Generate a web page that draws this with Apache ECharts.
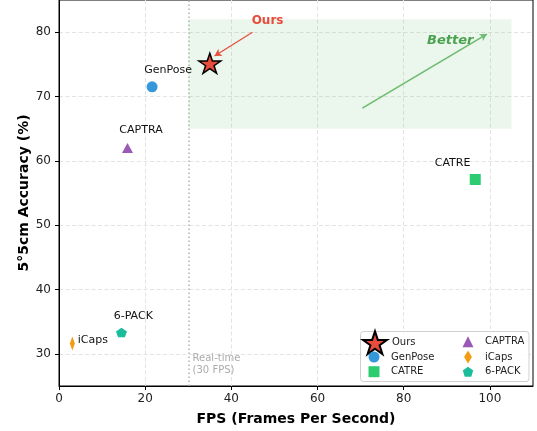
<!DOCTYPE html>
<html>
<head>
<meta charset="utf-8">
<script src="https://cdn.jsdelivr.net/npm/echarts@6/dist/echarts.min.js"></script>
<style>
  html, body { margin: 0; padding: 0; background: #fff; }
  #chart { width: 537px; height: 431px; }
</style>
</head>
<body>
<div id="chart"></div>
<script>
// Methods compared: speed (FPS) vs. 5°5cm accuracy
const methods  = ['Ours', 'GenPose', 'CATRE', 'CAPTRA', 'iCaps', '6-PACK'];
const fps      = [35.0, 21.6, 96.6, 15.9, 3.1, 14.5];
const accuracy = [75.0, 71.5, 57.1, 62.0, 31.6, 33.3];

// Axis ticks and ranges
const xTicks = [0, 20, 40, 60, 80, 100];
const yTicks = [30, 40, 50, 60, 70, 80];
const xRange = [0, 110];
const yRange = [25, 85];

// Real-time threshold and the "better" region
const realTimeFps = 30;
const betterFps = [30, 105];
const betterAcc = [65, 82];

const FONT = 'DejaVu Sans';

// Marker shapes
function polyPath(n, rOuter, rInner) {
  const pts = [];
  const count = rInner == null ? n : n * 2;
  for (let i = 0; i < count; i++) {
    const r = (rInner != null && i % 2) ? rInner : rOuter;
    const a = -Math.PI / 2 + i * 2 * Math.PI / count;
    pts.push((r * Math.cos(a)).toFixed(4) + ',' + (r * Math.sin(a)).toFixed(4));
  }
  return 'path://M' + pts.join('L') + 'Z';
}
const STAR = polyPath(5, 1, 0.382);
const PENTAGON = polyPath(5, 1);
const SQUARE = 'path://M0,0L1,0L1,1L0,1Z';
const TRIANGLE = 'path://M0,-1L1,1L-1,1Z';
const THIN_DIAMOND = 'path://M0,-1L0.6,0L0,1L-0.6,0Z';
const CIRCLE = 'path://M1,0A1,1,0,1,1,-1,0A1,1,0,1,1,1,0Z';

// legendSize: icon box; iconW: drawn icon width inside that box
const styles = {
  'Ours':    { color: '#e74c3c', symbol: STAR,         size: [22, 21], legendSize: [24, 23], iconW: 24, border: '#000', bw: 1.5 },
  'GenPose': { color: '#3498db', symbol: 'circle',     size: 11,       legendSize: [24, 11], iconW: 11, icon: CIRCLE },
  'CATRE':   { color: '#2ecc71', symbol: SQUARE,       size: [11, 11], legendSize: [24, 11], iconW: 11 },
  'CAPTRA':  { color: '#9b59b6', symbol: TRIANGLE,     size: [11, 10], legendSize: [24, 11], iconW: 11 },
  'iCaps':   { color: '#f39c12', symbol: THIN_DIAMOND, size: [8.4, 14], legendSize: [24, 13], iconW: 7.8 },
  '6-PACK':  { color: '#1abc9c', symbol: PENTAGON,     size: [11, 10], legendSize: [24, 10], iconW: 10.5 }
};

// Label placement relative to each marker (px)
const labelOffsets = {
  'GenPose': [16, -16.5],
  'CATRE':   [-22.7, -16.8],
  'CAPTRA':  [13.5, -17.5],
  'iCaps':   [20.5, -3.7],
  '6-PACK':  [11.8, -16.5]
};

const pointSeries = methods.map((m, i) => {
  const s = styles[m];
  return {
    type: 'scatter',
    name: m,
    data: [[fps[i], accuracy[i]]],
    symbol: s.symbol,
    symbolSize: s.size,
    symbolKeepAspect: true,
    symbolOffset: m === 'Ours' ? [0, -1] : [0, 0],
    itemStyle: {
      color: s.color,
      opacity: 1,
      borderColor: s.border || s.color,
      borderWidth: s.bw || 0
    },
    label: {
      show: m !== 'Ours',
      formatter: m,
      position: 'inside',
      offset: labelOffsets[m] || [0, 0],
      color: '#111',
      fontFamily: FONT,
      fontSize: 11,
      textBorderWidth: 0
    },
    emphasis: { disabled: true },
    z: m === 'Ours' ? 6 : 5
  };
});

// Annotation layer: region, threshold line, arrows and notes
const annotationSeries = {
  type: 'scatter',
  name: 'annotations',
  data: [],
  silent: true,
  z: 2,
  markArea: {
    silent: true,
    itemStyle: { color: 'rgba(76,175,80,0.11)' },
    data: [[{ coord: [betterFps[0], betterAcc[0]] }, { coord: [betterFps[1], betterAcc[1]] }]]
  },
  markLine: {
    silent: true,
    animation: false,
    label: { show: false },
    data: [
      [
        { coord: [realTimeFps, yRange[0]], symbol: 'none',
          lineStyle: { type: [1.5, 2.5], color: '#b3b3b3', width: 1.5 } },
        { coord: [realTimeFps, yRange[1]], symbol: 'none' }
      ],
      [
        { coord: [44.9, 80.0], symbol: 'none',
          lineStyle: { type: 'solid', color: '#e74c3c', width: 1.2 } },
        { coord: [36.1, 76.3], symbol: 'arrow', symbolSize: [6, 7] }
      ],
      [
        { coord: [70.4, 68.2], symbol: 'none',
          lineStyle: { type: 'solid', color: '#6dbb6f', width: 1.6 } },
        { coord: [99.3, 79.7], symbol: 'arrow', symbolSize: [6, 7] }
      ]
    ]
  },
  markPoint: {
    silent: true,
    animation: false,
    symbol: 'circle',
    symbolSize: 0,
    data: [
      { coord: [48.4, 81.75],
        label: { show: true, position: 'inside', formatter: 'Ours', color: '#e74c3c',
                 fontFamily: FONT, fontWeight: 'bold', fontSize: 12, textBorderWidth: 0 } },
      { coord: [90.8, 78.65],
        label: { show: true, position: 'inside', formatter: 'Better', color: '#4ba24e',
                 fontFamily: FONT, fontWeight: 'bold', fontStyle: 'italic', fontSize: 13, textBorderWidth: 0 } },
      { coord: [31.0, 28.4],
        label: { show: true, position: 'inside', align: 'left', formatter: 'Real-time\n(30 FPS)',
                 color: '#ababab', fontFamily: FONT, fontSize: 10, lineHeight: 12, textBorderWidth: 0 } }
    ]
  }
};

// Legend: two columns inside a framed box
const legendCols = [
  { names: ['Ours', 'GenPose', 'CATRE'], cx: 374 },
  { names: ['CAPTRA', 'iCaps', '6-PACK'], cx: 468 }
];
const rowCenters = [341.7, 357.0, 371.7];
const legends = [];
legendCols.forEach(col => {
  col.names.forEach((m, r) => {
    const s = styles[m];
    const [w, h] = s.legendSize;
    legends.push({
      data: [{ name: m, icon: s.icon || s.symbol }],
      left: col.cx - s.iconW / 2,
      top: rowCenters[r] - h / 2,
      orient: 'vertical',
      padding: 0,
      itemWidth: w,
      itemHeight: h,
      selectedMode: false,
      symbolKeepAspect: true,
      textStyle: { fontFamily: FONT, fontSize: 10, color: '#222', lineHeight: 10 },
      z: 5
    });
  });
});

const option = {
  animation: false,
  backgroundColor: '#fff',
  textStyle: { fontFamily: FONT },
  grid: {
    left: 59, right: 4, top: -1, bottom: 45,
    show: true, borderColor: '#000', borderWidth: 1, backgroundColor: 'transparent'
  },
  xAxis: {
    type: 'value',
    min: xRange[0], max: xRange[1],
    name: 'FPS (Frames Per Second)',
    nameLocation: 'middle',
    nameGap: 26,
    nameTextStyle: { fontFamily: FONT, fontWeight: 'bold', fontSize: 14, color: '#000' },
    axisLine: { show: true, onZero: false, lineStyle: { color: '#000', width: 1 } },
    axisTick: { show: true, length: 4, customValues: xTicks, lineStyle: { color: '#000' } },
    axisLabel: { customValues: xTicks, fontFamily: FONT, fontSize: 12, color: '#222', margin: 7 },
    splitLine: { show: true, lineStyle: { type: [4, 2.5], color: '#e3e3e3', width: 1 } }
  },
  yAxis: {
    type: 'value',
    min: yRange[0], max: yRange[1],
    name: '5°5cm Accuracy (%)',
    nameLocation: 'middle',
    nameGap: 28,
    nameMoveOverlap: false,
    nameRotate: 90,
    nameTextStyle: { fontFamily: FONT, fontWeight: 'bold', fontSize: 14, color: '#000' },
    axisLine: { show: true, onZero: false, lineStyle: { color: '#000', width: 1 } },
    axisTick: { show: true, length: 4, customValues: yTicks, lineStyle: { color: '#000' } },
    axisLabel: { customValues: yTicks, fontFamily: FONT, fontSize: 12, color: '#222', margin: 8 },
    splitLine: { show: true, lineStyle: { type: [4, 2.5], color: '#e3e3e3', width: 1 } }
  },
  legend: legends,
  graphic: [{
    type: 'rect',
    shape: { x: 360.5, y: 331.5, width: 168.5, height: 50, r: 3 },
    style: { fill: 'rgba(255,255,255,0.85)', stroke: '#cfcfcf', lineWidth: 1 },
    z: 4,
    silent: true
  }],
  series: [annotationSeries].concat(pointSeries)
};

const chart = echarts.init(document.getElementById('chart'), null, { renderer: 'canvas' });
chart.setOption(option);
</script>
</body>
</html>
